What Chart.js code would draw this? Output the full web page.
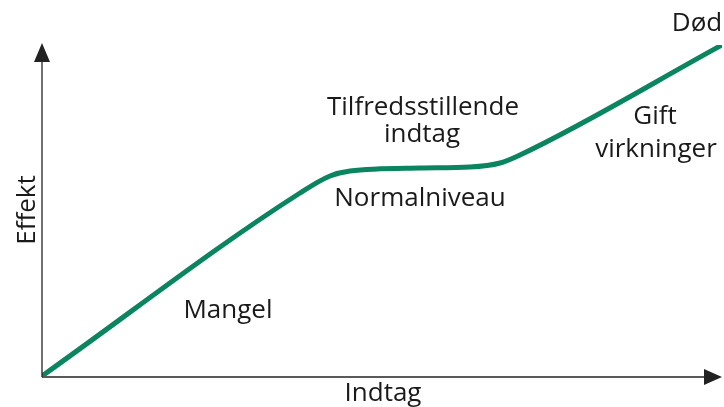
<!DOCTYPE html>
<html>
<head>
<meta charset="utf-8">
<script src="https://cdn.jsdelivr.net/npm/chart.js@4.4.1/dist/chart.umd.min.js"></script>
<style>
  html, body { margin: 0; padding: 0; background: #fff; }
  #wrap { width: 724px; height: 407px; }
</style>
</head>
<body>
<div id="wrap"><canvas id="effectChart"></canvas></div>
<script>
// Indtag (x) og effekt (y) – vilkårlige enheder
const indtag = [0, 258, 288, 308, 378, 428, 458, 478, 680];
const effekt = [0, 183, 200, 205, 208, 209, 213, 221, 331];

// Tekster i figuren og deres placering (grundlinje) i dataenheder
const labelTexts = ['Mangel', 'Tilfredsstillende', 'indtag', 'Normalniveau', 'Gift', 'virkninger', 'Død'];
const labelX = [186, 381, 380, 378, 613, 614, 655];
const labelY = [58, 261, 234, 170, 252, 219, 345];
const axisTitles = ['Indtag', 'Effekt'];

const green = '#0b8560';
const font = '26px "Open Sans", "Noto Sans", sans-serif';

const axesPlugin = {
    id: 'axesWithArrows',
    afterDatasetsDraw(chart) {
        const { ctx, chartArea, scales } = chart;
        const x0 = scales.x.getPixelForValue(0);
        const y0 = scales.y.getPixelForValue(0);
        ctx.save();
        ctx.strokeStyle = '#222';
        ctx.fillStyle = '#222';
        ctx.lineWidth = 1.3;

        // y-akse
        ctx.beginPath();
        ctx.moveTo(x0, y0 + 1);
        ctx.lineTo(x0, chartArea.top + 12);
        ctx.stroke();
        ctx.beginPath();
        ctx.moveTo(x0, chartArea.top - 2);
        ctx.lineTo(x0 - 8, chartArea.top + 17);
        ctx.lineTo(x0 + 8, chartArea.top + 17);
        ctx.closePath();
        ctx.fill();

        // x-akse
        ctx.beginPath();
        ctx.moveTo(x0, y0 + 1);
        ctx.lineTo(chartArea.right - 12, y0 + 1);
        ctx.stroke();
        ctx.beginPath();
        ctx.moveTo(chartArea.right, y0 + 1);
        ctx.lineTo(chartArea.right - 18, y0 - 7);
        ctx.lineTo(chartArea.right - 18, y0 + 9);
        ctx.closePath();
        ctx.fill();
        ctx.restore();
    },
    afterDraw(chart) {
        const { ctx, chartArea, scales } = chart;
        ctx.save();
        ctx.fillStyle = '#1a1a1a';
        ctx.font = font;
        ctx.textAlign = 'center';
        ctx.textBaseline = 'alphabetic';

        labelTexts.forEach((t, i) => {
            ctx.fillText(t, scales.x.getPixelForValue(labelX[i]), scales.y.getPixelForValue(labelY[i]));
        });

        // aksetitler
        ctx.fillText(axisTitles[0], scales.x.getPixelForValue(341), chartArea.bottom + 25);
        ctx.translate(chartArea.left - 7, scales.y.getPixelForValue(166));
        ctx.rotate(-Math.PI / 2);
        ctx.fillText(axisTitles[1], 0, 0);
        ctx.restore();
    }
};

const ctx = document.getElementById('effectChart').getContext('2d');
new Chart(ctx, {
    type: 'line',
    data: {
        datasets: [{
            data: indtag.map((x, i) => ({ x: x, y: effekt[i] })),
            borderColor: green,
            borderWidth: 5,
            pointRadius: 0,
            fill: false,
            cubicInterpolationMode: 'monotone',
            borderCapStyle: 'round'
        }]
    },
    options: {
        responsive: true,
        maintainAspectRatio: false,
        animation: false,
        layout: {
            padding: { left: 42, right: 2, top: 45, bottom: 31 }
        },
        scales: {
            x: { type: 'linear', min: 0, max: 680, display: false },
            y: { type: 'linear', min: 0, max: 331, display: false }
        },
        plugins: {
            legend: { display: false },
            tooltip: { enabled: false }
        }
    },
    plugins: [axesPlugin]
});
</script>
</body>
</html>
